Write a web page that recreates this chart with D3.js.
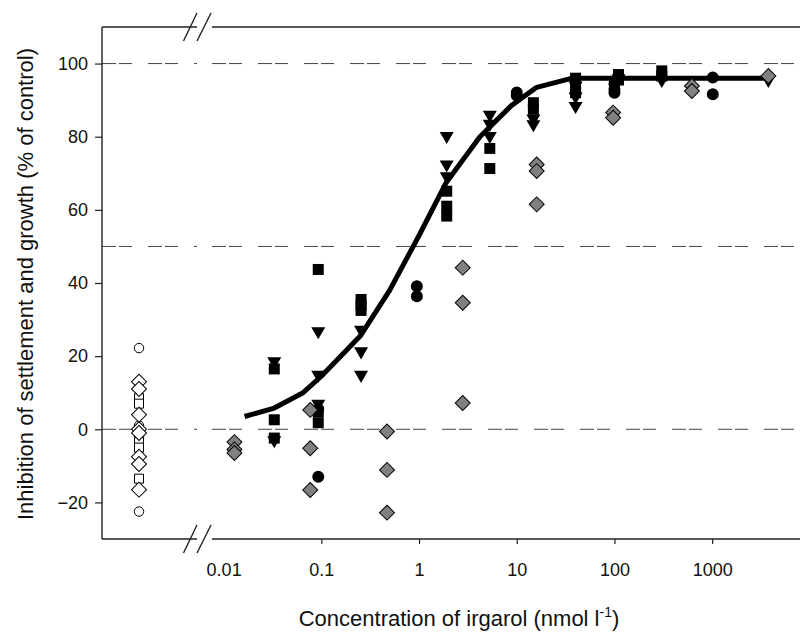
<!DOCTYPE html>
<html>
<head>
<meta charset="utf-8">
<script src="https://cdn.jsdelivr.net/npm/d3@7"></script>
<style>
  body { margin: 0; background: #fff; }
  svg { display: block; font-family: "Liberation Sans", Arial, sans-serif; }
</style>
</head>
<body>
<svg id="chart"></svg>
<script>
// fitted dose-response curve: [conc, inhibition]
var curve = [[0.0164, 3.5], [0.033, 5.8], [0.065, 10], [0.1, 14.5], [0.25, 25.5], [0.5, 38],
  [1.0, 53], [1.9, 67.5], [4.2, 80], [8.8, 88.5], [16, 93.5], [37, 96], [3700, 96]];

// measured points per endpoint: [conc (nmol/l), inhibition (%)]
var squares = [[0.033, 16.5], [0.033, 2.6], [0.033, -2.4], [0.093, 43.7], [0.093, 4.8], [0.093, 1.8],
  [0.255, 35.5], [0.255, 34], [0.255, 32.5], [1.92, 65.1], [1.92, 61], [1.92, 58.3],
  [5.3, 76.8], [5.3, 71.3], [14.8, 89.3], [14.8, 87.5], [40, 96], [40, 93.5], [40, 92],
  [110, 97], [110, 95.5], [305, 98], [305, 96.6]];
var triangles = [[0.033, 18.6], [0.033, -3], [0.093, 26.8], [0.093, 14.9], [0.093, 7],
  [0.255, 27.2], [0.255, 21.3], [0.255, 14.9], [1.92, 80.2], [1.92, 72.4], [1.92, 69.2],
  [5.3, 86], [5.3, 83.5], [5.3, 80.2], [14.8, 85], [14.8, 83.4], [40, 94], [40, 91], [40, 88.4],
  [110, 96], [305, 95.5], [3760, 95.5]];
var circles = [[0.093, 5.5], [0.093, -13], [0.95, 39.1], [0.95, 36.4], [10, 92.1], [10, 91.3],
  [100, 94.5], [100, 93], [100, 92], [1015, 96.2], [1015, 91.6]];
var diamonds = [[0.0129, -3.5], [0.0129, -5.5], [0.0129, -6.5], [0.077, 5.3], [0.077, -5.2], [0.077, -16.6],
  [0.47, -0.6], [0.47, -11.1], [0.47, -22.8], [2.8, 44.2], [2.8, 34.6], [2.8, 7.2],
  [16, 72.4], [16, 70.6], [16, 61.5], [97, 86.6], [97, 85.2], [620, 93.9], [620, 92.5], [3760, 96.6]];

// controls (no irgarol)
var ctrlCircles = [22.2, -22.5, 1, -2];
var ctrlSquares = [8.5, 7, -3.5, -5, -13.5];
var ctrlDiamonds = [13, 11, 4, 0, -1, -7.5, -9.5, -16.5];

var xTicks = [0.01, 0.1, 1, 10, 100, 1000];
var yTicks = [-20, 0, 20, 40, 60, 80, 100];
var refLines = [100, 50, 0];

var width = 802, height = 632,
    plotLeft = 102, plotRight = 800, plotTop = 27, plotBottom = 539,
    breakX0 = 197, breakX1 = 212;

var svg = d3.select("#chart").attr("width", width).attr("height", height);

var x = d3.scaleLog()
    .domain([Math.pow(10, -2.119), Math.pow(10, 3.899)])
    .range([breakX1, plotRight]);
var xc = d3.scalePoint().domain(["control"]).range([plotLeft, 176]);
var y = d3.scaleLinear().domain([-30, 110]).range([plotBottom, plotTop]);

// reference lines, split at the axis break
refLines.forEach(function(v) {
  [[plotLeft, breakX0], [breakX1, plotRight]].forEach(function(seg) {
    svg.append("line")
      .attr("x1", seg[0]).attr("x2", seg[1])
      .attr("y1", y(v)).attr("y2", y(v))
      .attr("stroke", "#444").attr("stroke-width", 1)
      .attr("stroke-dasharray", "14,3,13,16");
  });
});

// frame with break
var frame = svg.append("g").attr("stroke", "#222").attr("stroke-width", 1.4).attr("fill", "none");
frame.append("line").attr("x1", plotLeft).attr("x2", plotLeft).attr("y1", plotTop).attr("y2", plotBottom);
[plotTop, plotBottom].forEach(function(yy) {
  frame.append("line").attr("x1", plotLeft).attr("x2", breakX0).attr("y1", yy).attr("y2", yy);
  frame.append("line").attr("x1", breakX1).attr("x2", plotRight).attr("y1", yy).attr("y2", yy);
  frame.append("line").attr("x1", 183.5).attr("x2", 197).attr("y1", yy + 14).attr("y2", yy - 14);
  frame.append("line").attr("x1", 197).attr("x2", 211).attr("y1", yy + 14).attr("y2", yy - 14);
});

// axes
var yAxis = svg.append("g")
    .attr("transform", "translate(" + plotLeft + ",0)")
    .call(d3.axisLeft(y).tickValues(yTicks).tickSize(7).tickPadding(7));
var xAxis = svg.append("g")
    .attr("transform", "translate(0," + plotBottom + ")")
    .call(d3.axisBottom(x).tickValues(xTicks).tickFormat(d3.format("")).tickSize(5).tickPadding(19));
[yAxis, xAxis].forEach(function(g) {
  g.select(".domain").remove();
  g.selectAll(".tick line").attr("stroke", "#222").attr("stroke-width", 1.2);
  g.selectAll(".tick text").attr("font-size", 18).attr("font-family", "Liberation Sans, Arial, sans-serif").attr("fill", "#111");
});
xAxis.selectAll(".tick").filter(function(d) { return d === 0.01; }).select("line").remove();

// fitted curve
var line = d3.line()
    .x(function(d) { return x(d[0]); })
    .y(function(d) { return y(d[1]); });
svg.append("path")
    .datum(curve)
    .attr("d", line)
    .attr("fill", "none")
    .attr("stroke", "#000")
    .attr("stroke-width", 5)
    .attr("stroke-linejoin", "round");

function drawPoints(data, type, size, rot, fill, stroke, xf) {
  svg.append("g").selectAll("path")
    .data(data)
    .enter()
    .append("path")
    .attr("d", d3.symbol().type(type).size(size))
    .attr("transform", function(d) {
      return "translate(" + xf(d) + "," + y(Array.isArray(d) ? d[1] : d) + ") rotate(" + rot + ")";
    })
    .attr("fill", fill)
    .attr("stroke", stroke)
    .attr("stroke-width", 1);
}
var xData = function(d) { return x(d[0]); };
var xCtrl = function() { return xc("control"); };

// controls
drawPoints(ctrlCircles, d3.symbolCircle, 70, 0, "#fff", "#000", xCtrl);
drawPoints(ctrlSquares, d3.symbolSquare, 81, 0, "#fff", "#000", xCtrl);
drawPoints(ctrlDiamonds, d3.symbolSquare, 112, 45, "#fff", "#000", xCtrl);

// treatments
drawPoints(squares, d3.symbolSquare, 121, 0, "#000", "none", xData);
drawPoints(triangles, d3.symbolTriangle, 85, 180, "#000", "none", xData);
drawPoints(circles, d3.symbolCircle, 113, 0, "#000", "none", xData);
drawPoints(diamonds, d3.symbolSquare, 112, 45, "#808080", "#000", xData);

// titles
svg.append("text")
    .attr("transform", "translate(33," + 284 + ") rotate(-90)")
    .attr("text-anchor", "middle")
    .attr("font-size", 22)
    .attr("fill", "#111")
    .text("Inhibition of settlement and growth (% of control)");

var xt = svg.append("text")
    .attr("x", 459).attr("y", 626)
    .attr("text-anchor", "middle")
    .attr("font-size", 22)
    .attr("fill", "#111");
xt.append("tspan").text("Concentration of irgarol (nmol l");
xt.append("tspan").attr("font-size", 14).attr("dy", -9).text("-1");
xt.append("tspan").attr("dy", 9).text(")");
</script>
</body>
</html>
